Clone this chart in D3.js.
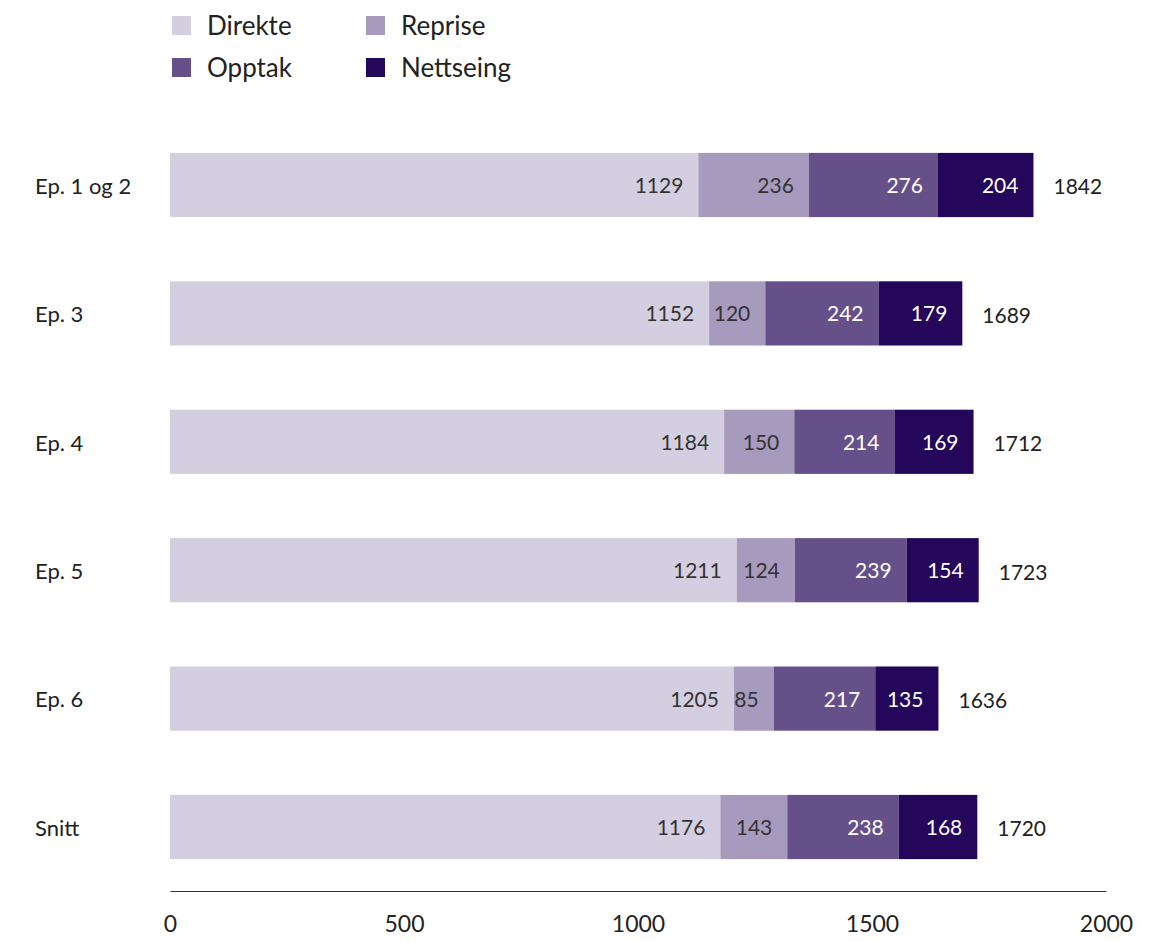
<!DOCTYPE html>
<html>
<head>
<meta charset="utf-8">
<script src="https://cdn.jsdelivr.net/npm/d3@7"></script>
<style>
  html, body { margin: 0; padding: 0; background: #fff; }
  svg { display: block; font-family: Lato, "Open Sans", sans-serif; }
</style>
</head>
<body>
<svg id="chart" width="1160" height="942"></svg>
<script>
// Episodes shown on the y axis
const categories = ["Ep. 1 og 2", "Ep. 3", "Ep. 4", "Ep. 5", "Ep. 6", "Snitt"];
// Viewing figures per channel (thousands)
const direkte   = [1129, 1152, 1184, 1211, 1205, 1176];
const reprise   = [236, 120, 150, 124, 85, 143];
const opptak    = [276, 242, 214, 239, 217, 238];
const nettseing = [204, 179, 169, 154, 135, 168];
const totals    = [1842, 1689, 1712, 1723, 1636, 1720];
const seriesNames = ["Direkte", "Reprise", "Opptak", "Nettseing"];
const xTicks = [0, 500, 1000, 1500, 2000];

const colors = ["#d3cfe0", "#a79bbd", "#655089", "#24075a"];
const labelColors = ["#333333", "#333333", "#ffffff", "#ffffff"];

const rows = categories.map((c, i) => ({
  cat: c,
  Direkte: direkte[i],
  Reprise: reprise[i],
  Opptak: opptak[i],
  Nettseing: nettseing[i],
  total: totals[i]
}));

const svg = d3.select("#chart");

const x = d3.scaleLinear().domain([0, 2000]).range([170, 1106]);
const y = d3.scaleBand().domain(categories).range([120.8, 891.2])
  .paddingInner(0.5).paddingOuter(0.25);

const stack = d3.stack().keys(seriesNames);
const stacked = stack(rows);

// Stacked segments
const layers = svg.append("g").selectAll("g")
  .data(stacked).join("g")
  .attr("fill", (d, i) => colors[i]);

layers.selectAll("rect")
  .data(d => d.map(v => ({ v, key: d.key })))
  .join("rect")
  .attr("x", d => x(d.v[0]))
  .attr("y", d => y(d.v.data.cat))
  .attr("width", d => x(d.v[1]) - x(d.v[0]))
  .attr("height", y.bandwidth());

// Segment value labels, right-aligned inside each segment
stacked.forEach((layer, li) => {
  svg.append("g").selectAll("text")
    .data(layer).join("text")
    .attr("x", d => x(d[1]) - 15)
    .attr("y", d => y(d.data.cat) + y.bandwidth() / 2)
    .attr("dy", "0.38em")
    .attr("text-anchor", "end")
    .attr("font-size", 21)
    .attr("fill", labelColors[li])
    .text(d => d.data[layer.key]);
});

// Totals beyond the bar end
svg.append("g").selectAll("text")
  .data(rows).join("text")
  .attr("x", d => x(d.Direkte + d.Reprise + d.Opptak + d.Nettseing) + 20)
  .attr("y", d => y(d.cat) + y.bandwidth() / 2)
  .attr("dy", "0.45em")
  .attr("font-size", 21)
  .attr("fill", "#222")
  .text(d => d.total);

// Category labels
svg.append("g").selectAll("text")
  .data(categories).join("text")
  .attr("x", 35)
  .attr("y", d => y(d) + y.bandwidth() / 2)
  .attr("dy", "0.4em")
  .attr("font-size", 22)
  .attr("fill", "#222")
  .text(d => d);

// Bottom axis: baseline and tick labels, no tick marks
const axis = svg.append("g").attr("transform", "translate(0,891)")
  .call(d3.axisBottom(x).tickValues(xTicks).tickSize(0).tickPadding(25).tickFormat(d3.format("d")));
axis.select(".domain").attr("stroke", "#333").attr("stroke-width", 1.2);
axis.selectAll("text").attr("font-size", 23).attr("fill", "#222")
  .attr("font-family", "Lato, 'Open Sans', sans-serif");

// Legend in two columns
const legendPos = [[172, 16], [366, 16], [172, 58], [366, 58]];
const legend = svg.append("g").selectAll("g")
  .data(seriesNames).join("g")
  .attr("transform", (d, i) => `translate(${legendPos[i][0]},${legendPos[i][1]})`);
legend.append("rect").attr("width", 19).attr("height", 19)
  .attr("fill", (d, i) => colors[i]);
legend.append("text")
  .attr("x", 35).attr("y", 10).attr("dy", "0.35em")
  .attr("font-size", 26).attr("fill", "#222")
  .text(d => d);
</script>
</body>
</html>
